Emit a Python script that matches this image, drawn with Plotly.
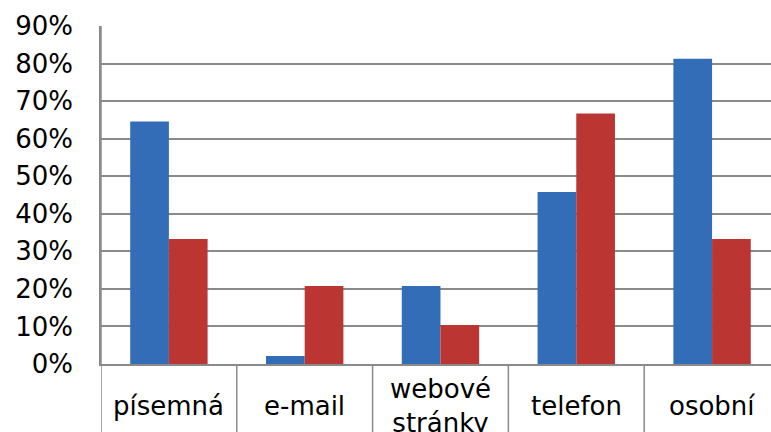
import plotly.graph_objects as go

# Response shares by contact channel (percent)
categories = ["písemná", "e-mail", "webové<br>stránky", "telefon", "osobní"]
series_a = [64.6, 2.1, 20.8, 45.8, 81.3]
series_b = [33.3, 20.8, 10.4, 66.7, 33.3]
y_ticks = [0, 10, 20, 30, 40, 50, 60, 70, 80, 90]
y_tick_labels = [f"{v}%" for v in y_ticks]

FONT = "DejaVu Sans"
GRID = "#8a8a8a"

idx = list(range(len(categories)))

fig = go.Figure()
fig.add_trace(go.Bar(x=idx, y=series_a, marker=dict(color="#346db7", line=dict(width=0)),
                     showlegend=False))
fig.add_trace(go.Bar(x=idx, y=series_b, marker=dict(color="#bb3533", line=dict(width=0)),
                     showlegend=False))

# category separators running from the top of the plot down through the label band
for b in [i - 0.5 for i in idx]:
    fig.add_shape(type="line", xref="x", yref="paper", x0=b, x1=b, y0=-0.3, y1=0 if b > -0.5 else 1,
                  line=dict(color=GRID, width=1.5), layer="above")

# category labels centred in the band under the axis
for i, c in zip(idx, categories):
    fig.add_annotation(x=i, y=-0.124, xref="x", yref="paper", text=c, showarrow=False,
                       yanchor="middle", xanchor="center",
                       font=dict(family=FONT, size=26, color="#000"))

fig.update_layout(
    width=771, height=432,
    margin=dict(l=101, r=0, t=26, b=68),
    paper_bgcolor="white", plot_bgcolor="white",
    barmode="group", bargap=0.43, bargroupgap=0,
    font=dict(family=FONT, size=26, color="#000"),
)
fig.update_xaxes(type="linear", range=[-0.5, 4.434], showticklabels=False, showgrid=False,
                 zeroline=False, showline=True, linecolor=GRID, linewidth=1.5, ticks="")
fig.update_yaxes(range=[0, 90], tickmode="array", tickvals=y_ticks, ticktext=y_tick_labels,
                 showgrid=True, gridcolor=GRID, gridwidth=1.5, zeroline=False, showline=True,
                 linecolor=GRID, linewidth=1.5, ticks="", ticklabelstandoff=21,
                 tickfont=dict(family=FONT, size=26, color="#000"))

fig.write_html("out.html")
